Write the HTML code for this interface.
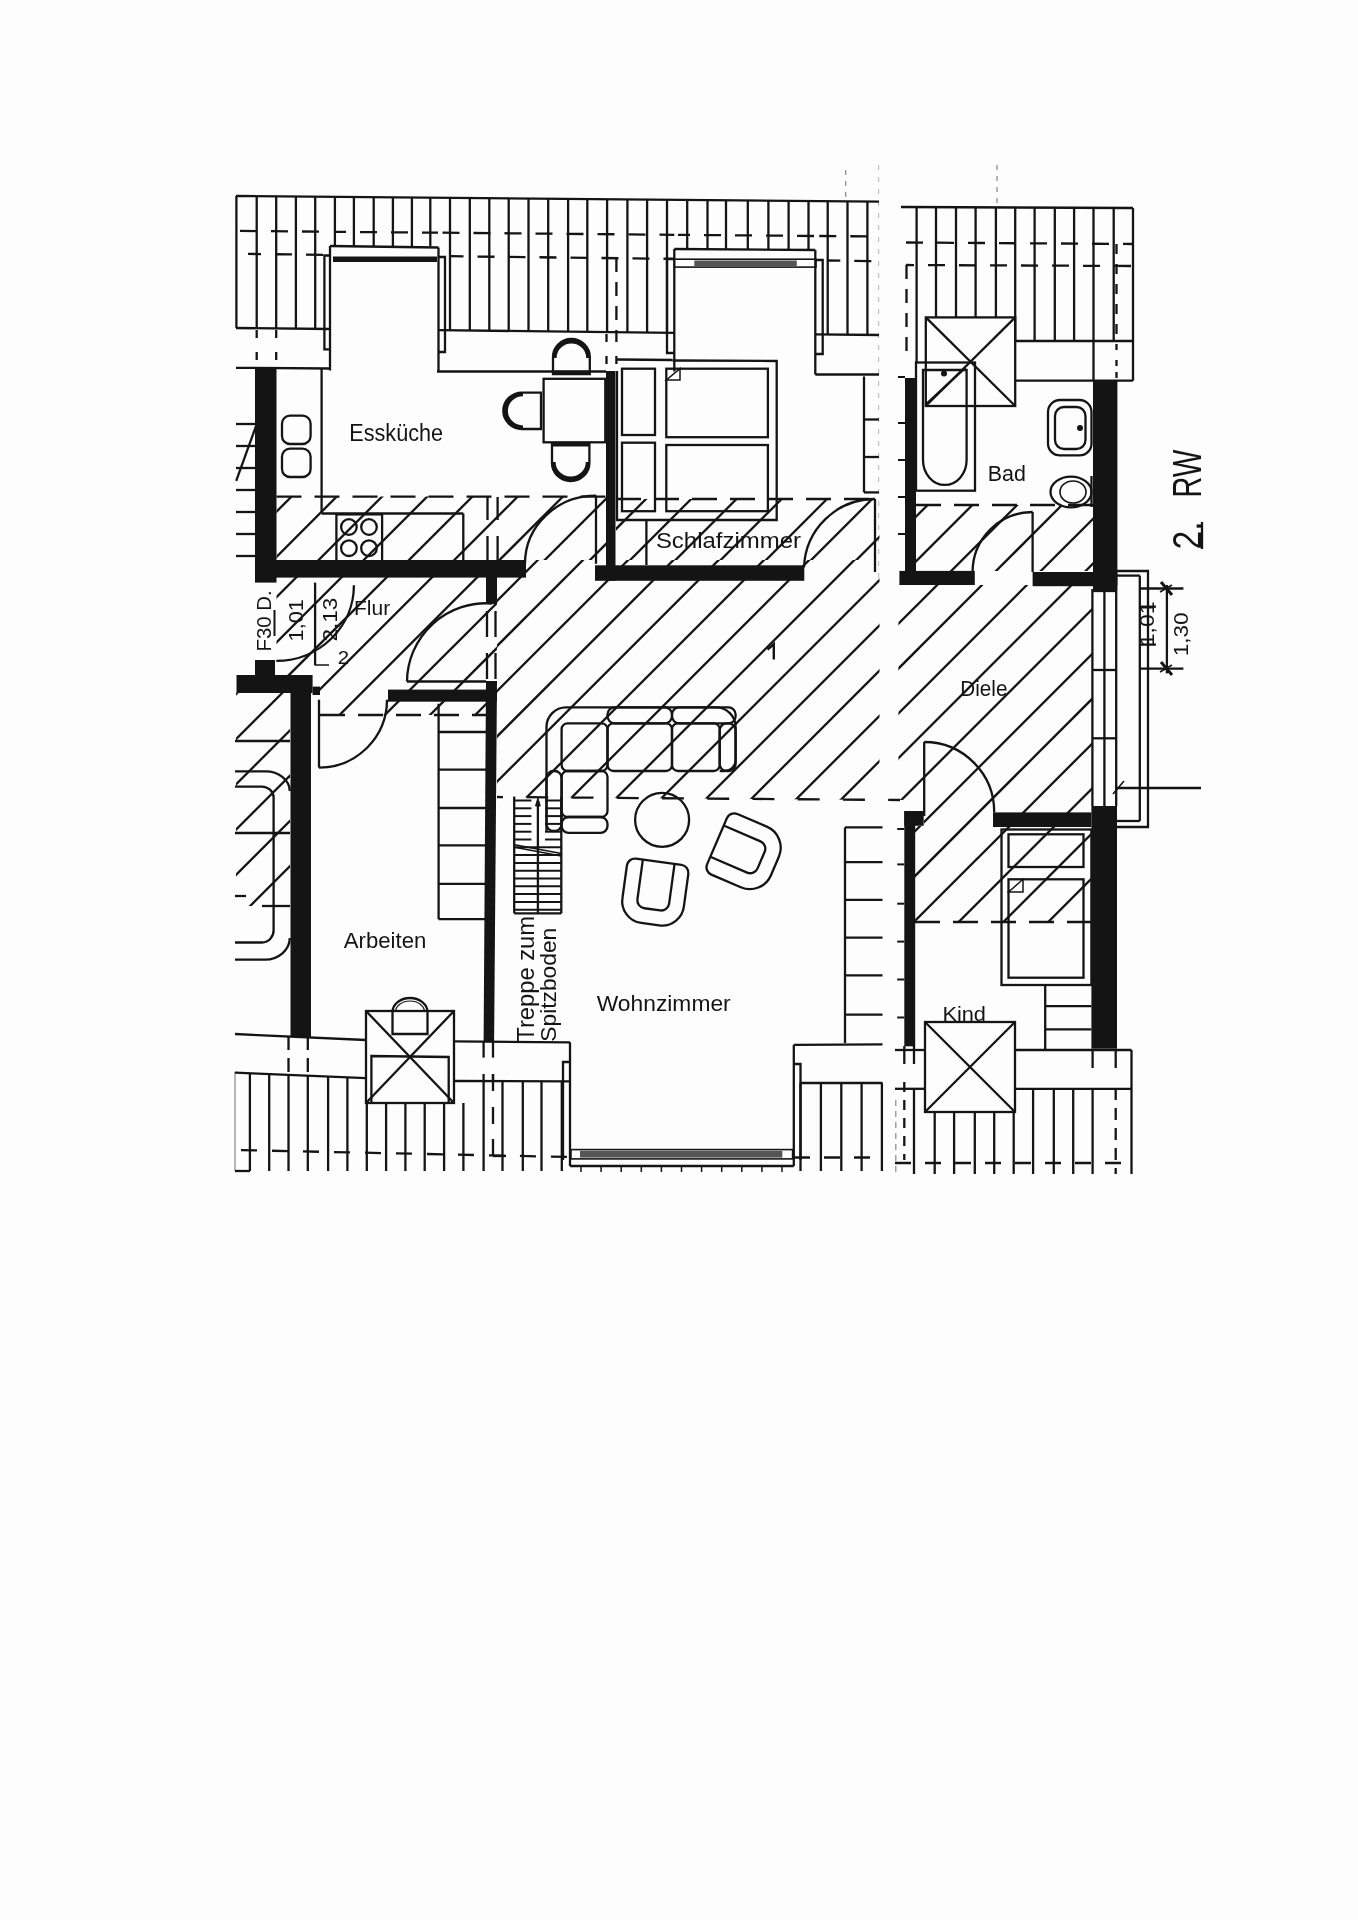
<!DOCTYPE html>
<html><head><meta charset="utf-8"><style>
html,body{margin:0;padding:0;background:#fff;}
svg{display:block;filter:blur(0.4px);}
text{font-family:"Liberation Sans",sans-serif;fill:#141414;stroke:none;}
</style></head><body>
<svg width="1358" height="1920" viewBox="0 0 1358 1920">
<defs><linearGradient id="edge" x1="0" x2="1" y1="0" y2="0"><stop offset="0" stop-color="#000" stop-opacity="0"/><stop offset="1" stop-color="#000" stop-opacity="0.035"/></linearGradient></defs>
<rect width="1358" height="1920" fill="#fdfdfd"/>
<g stroke="#141414" stroke-linecap="butt" fill="none">
<line x1="236.0" y1="196.0" x2="879.0" y2="201.6" stroke-width="2.3" />
<line x1="236.4" y1="196.0" x2="236.4" y2="328.0" stroke-width="2.3" />
<line x1="256.7" y1="196.2" x2="256.7" y2="328.2" stroke-width="2.3" />
<line x1="276.2" y1="196.3" x2="276.2" y2="328.4" stroke-width="2.3" />
<line x1="295.9" y1="196.5" x2="295.9" y2="328.7" stroke-width="2.3" />
<line x1="315.2" y1="196.7" x2="315.2" y2="328.9" stroke-width="2.3" />
<line x1="334.9" y1="196.9" x2="334.9" y2="246.0" stroke-width="2.3" />
<line x1="353.9" y1="197.0" x2="353.9" y2="246.0" stroke-width="2.3" />
<line x1="373.7" y1="197.2" x2="373.7" y2="246.0" stroke-width="2.3" />
<line x1="392.9" y1="197.4" x2="392.9" y2="246.0" stroke-width="2.3" />
<line x1="411.9" y1="197.5" x2="411.9" y2="246.0" stroke-width="2.3" />
<line x1="430.3" y1="197.7" x2="430.3" y2="246.0" stroke-width="2.3" />
<line x1="450.0" y1="197.9" x2="450.0" y2="330.3" stroke-width="2.3" />
<line x1="469.8" y1="198.0" x2="469.8" y2="330.5" stroke-width="2.3" />
<line x1="489.3" y1="198.2" x2="489.3" y2="330.8" stroke-width="2.3" />
<line x1="508.7" y1="198.4" x2="508.7" y2="331.0" stroke-width="2.3" />
<line x1="528.5" y1="198.5" x2="528.5" y2="331.2" stroke-width="2.3" />
<line x1="548.2" y1="198.7" x2="548.2" y2="331.4" stroke-width="2.3" />
<line x1="568.1" y1="198.9" x2="568.1" y2="331.6" stroke-width="2.3" />
<line x1="587.3" y1="199.1" x2="587.3" y2="331.8" stroke-width="2.3" />
<line x1="607.1" y1="199.2" x2="607.1" y2="332.0" stroke-width="2.3" />
<line x1="627.4" y1="199.4" x2="627.4" y2="332.3" stroke-width="2.3" />
<line x1="647.1" y1="199.6" x2="647.1" y2="332.5" stroke-width="2.3" />
<line x1="667.0" y1="199.7" x2="667.0" y2="332.7" stroke-width="2.3" />
<line x1="687.2" y1="199.9" x2="687.2" y2="249.5" stroke-width="2.3" />
<line x1="707.5" y1="200.1" x2="707.5" y2="249.5" stroke-width="2.3" />
<line x1="726.0" y1="200.3" x2="726.0" y2="249.5" stroke-width="2.3" />
<line x1="747.8" y1="200.5" x2="747.8" y2="249.5" stroke-width="2.3" />
<line x1="768.4" y1="200.6" x2="768.4" y2="249.5" stroke-width="2.3" />
<line x1="788.6" y1="200.8" x2="788.6" y2="249.5" stroke-width="2.3" />
<line x1="808.5" y1="201.0" x2="808.5" y2="249.5" stroke-width="2.3" />
<line x1="827.7" y1="201.1" x2="827.7" y2="334.4" stroke-width="2.3" />
<line x1="847.5" y1="201.3" x2="847.5" y2="334.7" stroke-width="2.3" />
<line x1="867.4" y1="201.5" x2="867.4" y2="334.9" stroke-width="2.3" />
<line x1="236.0" y1="328.0" x2="330.0" y2="329.0" stroke-width="2.3" />
<line x1="438.5" y1="330.2" x2="674.3" y2="332.8" stroke-width="2.3" />
<line x1="815.3" y1="334.3" x2="879.0" y2="335.0" stroke-width="2.3" />
<line x1="240.0" y1="230.9" x2="330.0" y2="231.8" stroke-width="2.3" stroke-dasharray="17 14" stroke-dashoffset="0"/>
<line x1="248.0" y1="253.9" x2="330.0" y2="254.9" stroke-width="2.3" stroke-dasharray="17 14" stroke-dashoffset="4"/>
<line x1="442.5" y1="232.7" x2="674.3" y2="234.8" stroke-width="2.3" stroke-dasharray="17 14" stroke-dashoffset="0"/>
<line x1="450.5" y1="256.2" x2="674.3" y2="258.9" stroke-width="2.3" stroke-dasharray="17 14" stroke-dashoffset="4"/>
<line x1="819.3" y1="236.0" x2="879.0" y2="236.5" stroke-width="2.3" stroke-dasharray="17 14" stroke-dashoffset="0"/>
<line x1="827.3" y1="260.5" x2="879.0" y2="261.2" stroke-width="2.3" stroke-dasharray="17 14" stroke-dashoffset="4"/>
<line x1="334.0" y1="231.8" x2="438.0" y2="232.7" stroke-width="2.3" stroke-dasharray="17 14" stroke-dashoffset="5"/>
<line x1="678.0" y1="234.8" x2="815.0" y2="236.0" stroke-width="2.3" stroke-dasharray="17 14" stroke-dashoffset="5"/>
<line x1="256.7" y1="330.0" x2="256.7" y2="368.0" stroke-width="2.3" stroke-dasharray="8 14"/>
<line x1="276.2" y1="330.0" x2="276.2" y2="368.0" stroke-width="2.3" stroke-dasharray="8 14"/>
<line x1="606.5" y1="334.0" x2="606.5" y2="371.0" stroke-width="2.3" stroke-dasharray="8 14"/>
<line x1="616.4" y1="334.0" x2="616.4" y2="371.0" stroke-width="2.3" stroke-dasharray="8 14"/>
<line x1="616.4" y1="258.0" x2="616.4" y2="334.0" stroke-width="2.3" stroke-dasharray="14 10"/>
<line x1="236.0" y1="367.8" x2="330.8" y2="368.5" stroke-width="2.3" />
<line x1="437.0" y1="371.5" x2="606.0" y2="371.5" stroke-width="2.3" />
<line x1="330.0" y1="246.0" x2="438.5" y2="247.5" stroke-width="2.3" />
<line x1="330.0" y1="246.0" x2="330.0" y2="370.5" stroke-width="2.3" />
<line x1="438.5" y1="247.5" x2="438.5" y2="371.5" stroke-width="2.3" />
<rect x="333.0" y="256.5" width="104.0" height="5.5" fill="#141414" stroke="none"/>
<polyline points="330.0,255.5 324.4,255.5 324.4,349.4 330.0,349.4" fill="none" stroke-width="2.3" />
<polyline points="438.5,257.0 445.0,257.0 445.0,352.0 438.5,352.0" fill="none" stroke-width="2.3" />
<line x1="674.3" y1="249.0" x2="815.3" y2="250.0" stroke-width="2.3" />
<line x1="674.3" y1="249.0" x2="674.3" y2="371.5" stroke-width="2.3" />
<line x1="815.3" y1="250.0" x2="815.3" y2="374.5" stroke-width="2.3" />
<rect x="674.3" y="259.2" width="141.7" height="7.9" rx="0" fill="none" stroke-width="1.6"/>
<rect x="694.3" y="260.5" width="102.5" height="6.0" fill="#555" stroke="none"/>
<polyline points="674.3,259.0 667.0,259.0 667.0,353.0 674.3,353.0" fill="none" stroke-width="2.3" />
<polyline points="815.3,260.0 822.7,260.0 822.7,354.0 815.3,354.0" fill="none" stroke-width="2.3" />
<line x1="815.3" y1="374.5" x2="879.0" y2="374.5" stroke-width="2.3" />
<line x1="901.0" y1="207.0" x2="1133.0" y2="208.0" stroke-width="2.3" />
<line x1="1133.0" y1="208.0" x2="1133.0" y2="380.7" stroke-width="2.3" />
<line x1="916.6" y1="207.1" x2="916.6" y2="362.0" stroke-width="2.3" />
<line x1="936.0" y1="207.2" x2="936.0" y2="318.0" stroke-width="2.3" />
<line x1="956.0" y1="207.2" x2="956.0" y2="318.0" stroke-width="2.3" />
<line x1="975.6" y1="207.3" x2="975.6" y2="318.0" stroke-width="2.3" />
<line x1="995.9" y1="207.4" x2="995.9" y2="318.0" stroke-width="2.3" />
<line x1="1015.2" y1="207.5" x2="1015.2" y2="341.0" stroke-width="2.3" />
<line x1="1034.6" y1="207.6" x2="1034.6" y2="341.0" stroke-width="2.3" />
<line x1="1054.8" y1="207.7" x2="1054.8" y2="341.0" stroke-width="2.3" />
<line x1="1074.1" y1="207.7" x2="1074.1" y2="341.0" stroke-width="2.3" />
<line x1="1093.5" y1="207.8" x2="1093.5" y2="341.0" stroke-width="2.3" />
<line x1="1113.7" y1="207.9" x2="1113.7" y2="341.0" stroke-width="2.3" />
<line x1="1015.2" y1="341.0" x2="1133.0" y2="341.0" stroke-width="2.3" />
<line x1="906.0" y1="242.5" x2="1133.0" y2="244.0" stroke-width="2.3" stroke-dasharray="17 14"/>
<line x1="906.0" y1="265.0" x2="1133.0" y2="266.0" stroke-width="2.3" stroke-dasharray="17 14" stroke-dashoffset="9"/>
<line x1="906.5" y1="265.0" x2="906.5" y2="360.0" stroke-width="2.3" stroke-dasharray="14 10"/>
<line x1="1116.5" y1="244.0" x2="1116.5" y2="350.0" stroke-width="2.3" stroke-dasharray="10 10"/>
<line x1="1093.5" y1="341.0" x2="1093.5" y2="381.0" stroke-width="2.3" />
<line x1="1116.5" y1="360.0" x2="1116.5" y2="381.0" stroke-width="2.3" stroke-dasharray="6 6"/>
<line x1="1015.2" y1="380.7" x2="1133.0" y2="380.7" stroke-width="2.3" />
<rect x="925.8" y="317.4" width="89.4" height="88.6" rx="0" fill="none" stroke-width="2.3"/>
<line x1="925.8" y1="317.4" x2="1015.2" y2="406.0" stroke-width="2.3" />
<line x1="1015.2" y1="317.4" x2="925.8" y2="406.0" stroke-width="2.3" />
<line x1="878.6" y1="165.0" x2="878.6" y2="580.0" stroke-width="1.2" stroke-dasharray="5 7" stroke-opacity="0.25"/>
<line x1="895.8" y1="1100.0" x2="895.8" y2="1174.0" stroke-width="1.2" stroke-dasharray="6 5" stroke-opacity="0.5"/>
<line x1="898.0" y1="377.0" x2="905.0" y2="377.0" stroke-width="2" />
<line x1="898.0" y1="423.0" x2="905.0" y2="423.0" stroke-width="2" />
<line x1="898.0" y1="460.0" x2="905.0" y2="460.0" stroke-width="2" />
<line x1="898.0" y1="497.0" x2="905.0" y2="497.0" stroke-width="2" />
<line x1="898.0" y1="534.0" x2="905.0" y2="534.0" stroke-width="2" />
<line x1="897.2" y1="829.0" x2="904.3" y2="829.0" stroke-width="2" />
<line x1="897.2" y1="864.4" x2="904.3" y2="864.4" stroke-width="2" />
<line x1="897.2" y1="903.7" x2="904.3" y2="903.7" stroke-width="2" />
<line x1="897.2" y1="941.6" x2="904.3" y2="941.6" stroke-width="2" />
<line x1="897.2" y1="979.5" x2="904.3" y2="979.5" stroke-width="2" />
<line x1="897.2" y1="1017.5" x2="904.3" y2="1017.5" stroke-width="2" />
<line x1="997.0" y1="165.0" x2="997.0" y2="207.0" stroke-width="1.2" stroke-dasharray="5 6" stroke-opacity="0.5"/>
<line x1="845.7" y1="170.0" x2="845.7" y2="201.0" stroke-width="1.2" stroke-dasharray="5 6" stroke-opacity="0.5"/>
<clipPath id="h1"><polygon points="276.5,496.6 606.0,496.6 606.0,560.0 276.5,560.0"/></clipPath>
<g clip-path="url(#h1)">
<line x1="127.6" y1="570.0" x2="211.0" y2="486.6" stroke-width="2.3"/>
<line x1="172.8" y1="570.0" x2="256.2" y2="486.6" stroke-width="2.3"/>
<line x1="218.1" y1="570.0" x2="301.5" y2="486.6" stroke-width="2.3"/>
<line x1="263.3" y1="570.0" x2="346.7" y2="486.6" stroke-width="2.3"/>
<line x1="308.6" y1="570.0" x2="392.0" y2="486.6" stroke-width="2.3"/>
<line x1="353.8" y1="570.0" x2="437.2" y2="486.6" stroke-width="2.3"/>
<line x1="399.0" y1="570.0" x2="482.4" y2="486.6" stroke-width="2.3"/>
<line x1="444.3" y1="570.0" x2="527.7" y2="486.6" stroke-width="2.3"/>
<line x1="489.5" y1="570.0" x2="572.9" y2="486.6" stroke-width="2.3"/>
<line x1="534.8" y1="570.0" x2="618.2" y2="486.6" stroke-width="2.3"/>
<line x1="580.0" y1="570.0" x2="663.4" y2="486.6" stroke-width="2.3"/>
<line x1="625.2" y1="570.0" x2="708.6" y2="486.6" stroke-width="2.3"/>
</g>
<clipPath id="h2"><polygon points="616.0,499.0 879.5,499.0 879.5,560.0 616.0,560.0"/></clipPath>
<g clip-path="url(#h2)">
<line x1="484.5" y1="570.0" x2="565.5" y2="489.0" stroke-width="2.3"/>
<line x1="529.8" y1="570.0" x2="610.8" y2="489.0" stroke-width="2.3"/>
<line x1="575.0" y1="570.0" x2="656.0" y2="489.0" stroke-width="2.3"/>
<line x1="620.2" y1="570.0" x2="701.2" y2="489.0" stroke-width="2.3"/>
<line x1="665.5" y1="570.0" x2="746.5" y2="489.0" stroke-width="2.3"/>
<line x1="710.7" y1="570.0" x2="791.7" y2="489.0" stroke-width="2.3"/>
<line x1="756.0" y1="570.0" x2="837.0" y2="489.0" stroke-width="2.3"/>
<line x1="801.2" y1="570.0" x2="882.2" y2="489.0" stroke-width="2.3"/>
<line x1="846.4" y1="570.0" x2="927.4" y2="489.0" stroke-width="2.3"/>
<line x1="891.7" y1="570.0" x2="972.7" y2="489.0" stroke-width="2.3"/>
</g>
<clipPath id="h3"><polygon points="497.0,560.0 879.5,560.0 879.5,800.0 497.0,797.0"/></clipPath>
<g clip-path="url(#h3)">
<line x1="197.3" y1="810.0" x2="457.3" y2="550.0" stroke-width="2.3"/>
<line x1="242.5" y1="810.0" x2="502.5" y2="550.0" stroke-width="2.3"/>
<line x1="287.8" y1="810.0" x2="547.8" y2="550.0" stroke-width="2.3"/>
<line x1="333.0" y1="810.0" x2="593.0" y2="550.0" stroke-width="2.3"/>
<line x1="378.2" y1="810.0" x2="638.2" y2="550.0" stroke-width="2.3"/>
<line x1="423.5" y1="810.0" x2="683.5" y2="550.0" stroke-width="2.3"/>
<line x1="468.7" y1="810.0" x2="728.7" y2="550.0" stroke-width="2.3"/>
<line x1="514.0" y1="810.0" x2="774.0" y2="550.0" stroke-width="2.3"/>
<line x1="559.2" y1="810.0" x2="819.2" y2="550.0" stroke-width="2.3"/>
<line x1="604.4" y1="810.0" x2="864.4" y2="550.0" stroke-width="2.3"/>
<line x1="649.7" y1="810.0" x2="909.7" y2="550.0" stroke-width="2.3"/>
<line x1="694.9" y1="810.0" x2="954.9" y2="550.0" stroke-width="2.3"/>
<line x1="740.2" y1="810.0" x2="1000.2" y2="550.0" stroke-width="2.3"/>
<line x1="785.4" y1="810.0" x2="1045.4" y2="550.0" stroke-width="2.3"/>
<line x1="830.6" y1="810.0" x2="1090.6" y2="550.0" stroke-width="2.3"/>
<line x1="875.9" y1="810.0" x2="1135.9" y2="550.0" stroke-width="2.3"/>
</g>
<clipPath id="h4"><polygon points="276.5,560.0 497.0,560.0 497.0,715.0 320.0,715.0 320.0,695.0 276.5,693.0"/></clipPath>
<g clip-path="url(#h4)">
<line x1="58.1" y1="725.0" x2="233.1" y2="550.0" stroke-width="2.3"/>
<line x1="103.3" y1="725.0" x2="278.3" y2="550.0" stroke-width="2.3"/>
<line x1="148.6" y1="725.0" x2="323.6" y2="550.0" stroke-width="2.3"/>
<line x1="193.8" y1="725.0" x2="368.8" y2="550.0" stroke-width="2.3"/>
<line x1="239.0" y1="725.0" x2="414.0" y2="550.0" stroke-width="2.3"/>
<line x1="284.3" y1="725.0" x2="459.3" y2="550.0" stroke-width="2.3"/>
<line x1="329.5" y1="725.0" x2="504.5" y2="550.0" stroke-width="2.3"/>
<line x1="374.8" y1="725.0" x2="549.8" y2="550.0" stroke-width="2.3"/>
<line x1="420.0" y1="725.0" x2="595.0" y2="550.0" stroke-width="2.3"/>
<line x1="465.2" y1="725.0" x2="640.2" y2="550.0" stroke-width="2.3"/>
<line x1="510.5" y1="725.0" x2="685.5" y2="550.0" stroke-width="2.3"/>
</g>
<clipPath id="h5"><polygon points="898.4,585.0 1093.0,585.0 1093.0,922.0 915.0,922.0 915.0,826.0 924.0,826.0 924.0,800.0 898.4,800.0"/></clipPath>
<g clip-path="url(#h5)">
<line x1="500.6" y1="932.0" x2="857.6" y2="575.0" stroke-width="2.3"/>
<line x1="545.4" y1="932.0" x2="902.4" y2="575.0" stroke-width="2.3"/>
<line x1="590.2" y1="932.0" x2="947.2" y2="575.0" stroke-width="2.3"/>
<line x1="635.0" y1="932.0" x2="992.0" y2="575.0" stroke-width="2.3"/>
<line x1="679.8" y1="932.0" x2="1036.8" y2="575.0" stroke-width="2.3"/>
<line x1="724.6" y1="932.0" x2="1081.6" y2="575.0" stroke-width="2.3"/>
<line x1="769.4" y1="932.0" x2="1126.4" y2="575.0" stroke-width="2.3"/>
<line x1="814.2" y1="932.0" x2="1171.2" y2="575.0" stroke-width="2.3"/>
<line x1="859.0" y1="932.0" x2="1216.0" y2="575.0" stroke-width="2.3"/>
<line x1="903.8" y1="932.0" x2="1260.8" y2="575.0" stroke-width="2.3"/>
<line x1="948.6" y1="932.0" x2="1305.6" y2="575.0" stroke-width="2.3"/>
<line x1="993.4" y1="932.0" x2="1350.4" y2="575.0" stroke-width="2.3"/>
<line x1="1038.2" y1="932.0" x2="1395.2" y2="575.0" stroke-width="2.3"/>
<line x1="1083.0" y1="932.0" x2="1440.0" y2="575.0" stroke-width="2.3"/>
<line x1="1127.8" y1="932.0" x2="1484.8" y2="575.0" stroke-width="2.3"/>
</g>
<clipPath id="h6"><polygon points="916.0,505.0 1093.0,505.0 1093.0,571.0 916.0,571.0"/></clipPath>
<g clip-path="url(#h6)">
<line x1="762.0" y1="581.0" x2="848.0" y2="495.0" stroke-width="2.3"/>
<line x1="806.8" y1="581.0" x2="892.8" y2="495.0" stroke-width="2.3"/>
<line x1="851.6" y1="581.0" x2="937.6" y2="495.0" stroke-width="2.3"/>
<line x1="896.4" y1="581.0" x2="982.4" y2="495.0" stroke-width="2.3"/>
<line x1="941.2" y1="581.0" x2="1027.2" y2="495.0" stroke-width="2.3"/>
<line x1="986.0" y1="581.0" x2="1072.0" y2="495.0" stroke-width="2.3"/>
<line x1="1030.8" y1="581.0" x2="1116.8" y2="495.0" stroke-width="2.3"/>
<line x1="1075.6" y1="581.0" x2="1161.6" y2="495.0" stroke-width="2.3"/>
<line x1="1120.4" y1="581.0" x2="1206.4" y2="495.0" stroke-width="2.3"/>
</g>
<rect x="255.0" y="368.0" width="21.5" height="214.6" fill="#141414" stroke="none"/>
<rect x="255.0" y="560.0" width="271.0" height="17.6" fill="#141414" stroke="none"/>
<rect x="595.0" y="565.3" width="209.3" height="15.5" fill="#141414" stroke="none"/>
<rect x="606.0" y="371.0" width="9.5" height="209.8" fill="#141414" stroke="none"/>
<rect x="486.0" y="576.0" width="11.0" height="28.0" fill="#141414" stroke="none"/>
<polygon points="486,681 497,681 494.1,1042 483.6,1042" fill="#141414" stroke="none"/>
<line x1="487.0" y1="611.0" x2="487.0" y2="637.0" stroke-width="2.3" />
<line x1="495.5" y1="611.0" x2="495.5" y2="637.0" stroke-width="2.3" />
<line x1="487.0" y1="653.0" x2="487.0" y2="679.0" stroke-width="2.3" />
<line x1="495.5" y1="653.0" x2="495.5" y2="679.0" stroke-width="2.3" />
<rect x="255.0" y="660.0" width="20.0" height="16.0" fill="#141414" stroke="none"/>
<rect x="236.5" y="675.0" width="76.1" height="18.0" fill="#141414" stroke="none"/>
<rect x="290.5" y="675.0" width="20.5" height="362.0" fill="#141414" stroke="none"/>
<rect x="312.6" y="686.6" width="7.4" height="8.4" fill="#141414" stroke="none"/>
<rect x="388.0" y="689.6" width="109.0" height="12.1" fill="#141414" stroke="none"/>
<rect x="905.0" y="378.0" width="11.0" height="207.0" fill="#141414" stroke="none"/>
<rect x="899.4" y="570.9" width="75.4" height="14.1" fill="#141414" stroke="none"/>
<rect x="1032.6" y="572.0" width="84.8" height="14.2" fill="#141414" stroke="none"/>
<rect x="1093.0" y="380.7" width="24.4" height="209.3" fill="#141414" stroke="none"/>
<rect x="904.3" y="811.0" width="10.9" height="235.3" fill="#141414" stroke="none"/>
<rect x="904.3" y="811.0" width="19.4" height="14.8" fill="#141414" stroke="none"/>
<rect x="993.0" y="812.4" width="98.4" height="14.6" fill="#141414" stroke="none"/>
<rect x="1091.4" y="806.0" width="25.6" height="242.7" fill="#141414" stroke="none"/>
<line x1="276.5" y1="496.6" x2="606.0" y2="496.6" stroke-width="2.3" stroke-dasharray="25 13"/>
<line x1="616.0" y1="499.0" x2="880.0" y2="499.0" stroke-width="2.3" stroke-dasharray="25 13"/>
<line x1="320.0" y1="715.0" x2="486.0" y2="715.0" stroke-width="2.3" stroke-dasharray="25 13"/>
<line x1="497.0" y1="797.0" x2="900.0" y2="800.0" stroke-width="2.3" stroke-dasharray="22 23.24" stroke-dashoffset="16"/>
<line x1="916.0" y1="505.0" x2="1093.0" y2="505.0" stroke-width="2.3" stroke-dasharray="25 13"/>
<line x1="915.0" y1="922.0" x2="1091.0" y2="922.0" stroke-width="2.3" stroke-dasharray="25 13"/>
<line x1="235.0" y1="1034.0" x2="366.0" y2="1040.0" stroke-width="2.3" />
<line x1="454.0" y1="1041.4" x2="570.0" y2="1042.3" stroke-width="2.3" />
<line x1="235.0" y1="1072.7" x2="366.0" y2="1078.2" stroke-width="2.3" />
<line x1="454.0" y1="1081.0" x2="570.0" y2="1081.3" stroke-width="2.3" />
<line x1="235.0" y1="1072.0" x2="235.0" y2="1171.0" stroke-width="1.2" stroke-opacity="0.5"/>
<line x1="249.9" y1="1073.3" x2="249.9" y2="1171.0" stroke-width="2.3" />
<line x1="269.2" y1="1074.1" x2="269.2" y2="1171.0" stroke-width="2.3" />
<line x1="288.5" y1="1074.9" x2="288.5" y2="1171.0" stroke-width="2.3" />
<line x1="307.8" y1="1075.8" x2="307.8" y2="1171.0" stroke-width="2.3" />
<line x1="328.1" y1="1076.6" x2="328.1" y2="1171.0" stroke-width="2.3" />
<line x1="347.4" y1="1077.4" x2="347.4" y2="1171.0" stroke-width="2.3" />
<line x1="366.8" y1="1103.0" x2="366.8" y2="1171.0" stroke-width="2.3" />
<line x1="386.1" y1="1103.0" x2="386.1" y2="1171.0" stroke-width="2.3" />
<line x1="405.4" y1="1103.0" x2="405.4" y2="1171.0" stroke-width="2.3" />
<line x1="424.7" y1="1103.0" x2="424.7" y2="1171.0" stroke-width="2.3" />
<line x1="444.1" y1="1103.0" x2="444.1" y2="1171.0" stroke-width="2.3" />
<line x1="463.4" y1="1103.0" x2="463.4" y2="1171.0" stroke-width="2.3" />
<line x1="483.6" y1="1081.0" x2="483.6" y2="1171.0" stroke-width="2.3" />
<line x1="502.5" y1="1081.0" x2="502.5" y2="1171.0" stroke-width="2.3" />
<line x1="522.8" y1="1081.0" x2="522.8" y2="1171.0" stroke-width="2.3" />
<line x1="541.5" y1="1081.0" x2="541.5" y2="1171.0" stroke-width="2.3" />
<line x1="561.8" y1="1081.0" x2="561.8" y2="1171.0" stroke-width="2.3" />
<line x1="235.0" y1="1171.0" x2="250.0" y2="1171.0" stroke-width="2.3" />
<line x1="235.0" y1="1150.0" x2="570.0" y2="1157.0" stroke-width="2.3" stroke-dasharray="16 15" stroke-dashoffset="-6"/>
<line x1="288.5" y1="1037.0" x2="288.5" y2="1050.0" stroke-width="2.3" />
<line x1="288.5" y1="1058.0" x2="288.5" y2="1072.0" stroke-width="2.3" />
<line x1="307.8" y1="1037.0" x2="307.8" y2="1050.0" stroke-width="2.3" />
<line x1="307.8" y1="1058.0" x2="307.8" y2="1072.0" stroke-width="2.3" />
<line x1="483.6" y1="1042.0" x2="483.6" y2="1057.6" stroke-width="2.3" />
<line x1="483.6" y1="1074.0" x2="483.6" y2="1081.0" stroke-width="2.3" />
<line x1="493.0" y1="1042.0" x2="493.0" y2="1057.6" stroke-width="2.3" />
<line x1="493.0" y1="1074.0" x2="493.0" y2="1081.0" stroke-width="2.3" />
<line x1="493.0" y1="1074.0" x2="493.0" y2="1091.0" stroke-width="2.3" />
<line x1="493.0" y1="1107.0" x2="493.0" y2="1124.0" stroke-width="2.3" />
<line x1="493.0" y1="1139.0" x2="493.0" y2="1156.0" stroke-width="2.3" />
<line x1="493.0" y1="1156.0" x2="506.0" y2="1156.0" stroke-width="2.3" />
<rect x="366.0" y="1011.0" width="88.0" height="92.0" rx="0" fill="none" stroke-width="2.3"/>
<line x1="366.0" y1="1011.0" x2="454.0" y2="1103.0" stroke-width="2.3" />
<line x1="454.0" y1="1011.0" x2="366.0" y2="1103.0" stroke-width="2.3" />
<polyline points="371.4,1103.0 371.4,1056.0 448.7,1057.0 448.7,1103.0" fill="none" stroke-width="2.3" />
<path d="M392.5,1034 L392.5,1012 A17.5,14 0 0 1 427.5,1012 L427.5,1034 Z" fill="none" stroke-width="2.3" />
<path d="M395.5,1012 A14.5,11 0 0 1 424.5,1012" fill="none" stroke-width="1.2" />
<line x1="570.0" y1="1042.3" x2="570.0" y2="1166.0" stroke-width="2.3" />
<line x1="793.8" y1="1044.8" x2="793.8" y2="1166.0" stroke-width="2.3" />
<line x1="570.0" y1="1166.0" x2="793.8" y2="1166.0" stroke-width="2.3" />
<rect x="570.9" y="1149.6" width="221.7" height="9.3" rx="0" fill="none" stroke-width="1.6"/>
<rect x="580.0" y="1150.8" width="202.3" height="6.8" fill="#555" stroke="none"/>
<polyline points="570.0,1062.0 563.0,1062.0 563.0,1160.0" fill="none" stroke-width="2.3" />
<polyline points="793.8,1064.0 800.5,1064.0 800.5,1160.0" fill="none" stroke-width="2.3" />
<line x1="581.0" y1="1166.0" x2="581.0" y2="1172.0" stroke-width="1.5" />
<line x1="601.1" y1="1166.0" x2="601.1" y2="1172.0" stroke-width="1.5" />
<line x1="621.2" y1="1166.0" x2="621.2" y2="1172.0" stroke-width="1.5" />
<line x1="641.3" y1="1166.0" x2="641.3" y2="1172.0" stroke-width="1.5" />
<line x1="661.4" y1="1166.0" x2="661.4" y2="1172.0" stroke-width="1.5" />
<line x1="681.5" y1="1166.0" x2="681.5" y2="1172.0" stroke-width="1.5" />
<line x1="701.6" y1="1166.0" x2="701.6" y2="1172.0" stroke-width="1.5" />
<line x1="721.7" y1="1166.0" x2="721.7" y2="1172.0" stroke-width="1.5" />
<line x1="741.8" y1="1166.0" x2="741.8" y2="1172.0" stroke-width="1.5" />
<line x1="761.9" y1="1166.0" x2="761.9" y2="1172.0" stroke-width="1.5" />
<line x1="782.0" y1="1166.0" x2="782.0" y2="1172.0" stroke-width="1.5" />
<line x1="793.8" y1="1044.8" x2="882.5" y2="1044.3" stroke-width="2.3" />
<line x1="800.5" y1="1083.0" x2="882.5" y2="1083.0" stroke-width="2.3" />
<line x1="820.9" y1="1083.0" x2="820.9" y2="1171.0" stroke-width="2.3" />
<line x1="841.3" y1="1083.0" x2="841.3" y2="1171.0" stroke-width="2.3" />
<line x1="861.6" y1="1083.0" x2="861.6" y2="1171.0" stroke-width="2.3" />
<line x1="881.9" y1="1083.0" x2="881.9" y2="1171.0" stroke-width="2.3" />
<line x1="800.5" y1="1083.0" x2="800.5" y2="1171.0" stroke-width="2.3" />
<line x1="794.0" y1="1157.5" x2="882.0" y2="1157.5" stroke-width="2.3" stroke-dasharray="16 14"/>
<line x1="1015.0" y1="1050.0" x2="1131.5" y2="1050.0" stroke-width="2.3" />
<line x1="1015.0" y1="1088.8" x2="1131.5" y2="1088.8" stroke-width="2.3" />
<line x1="1131.5" y1="1050.0" x2="1131.5" y2="1174.0" stroke-width="2.3" />
<line x1="895.0" y1="1050.0" x2="925.0" y2="1050.0" stroke-width="2.3" />
<line x1="895.0" y1="1088.8" x2="925.0" y2="1088.8" stroke-width="2.3" />
<line x1="934.7" y1="1112.0" x2="934.7" y2="1174.0" stroke-width="2.3" />
<line x1="954.1" y1="1112.0" x2="954.1" y2="1174.0" stroke-width="2.3" />
<line x1="974.8" y1="1112.0" x2="974.8" y2="1174.0" stroke-width="2.3" />
<line x1="994.2" y1="1112.0" x2="994.2" y2="1174.0" stroke-width="2.3" />
<line x1="1033.1" y1="1088.8" x2="1033.1" y2="1174.0" stroke-width="2.3" />
<line x1="1053.8" y1="1088.8" x2="1053.8" y2="1174.0" stroke-width="2.3" />
<line x1="1073.2" y1="1088.8" x2="1073.2" y2="1174.0" stroke-width="2.3" />
<line x1="1092.6" y1="1088.8" x2="1092.6" y2="1174.0" stroke-width="2.3" />
<line x1="914.0" y1="1088.0" x2="914.0" y2="1174.0" stroke-width="2.3" />
<line x1="914.0" y1="1046.0" x2="914.0" y2="1064.0" stroke-width="2.3" />
<line x1="904.3" y1="1046.0" x2="904.3" y2="1064.0" stroke-width="2.3" />
<line x1="904.3" y1="1082.0" x2="904.3" y2="1160.0" stroke-width="2.3" stroke-dasharray="10 8"/>
<line x1="1092.6" y1="1050.0" x2="1092.6" y2="1068.0" stroke-width="2.3" />
<line x1="1115.7" y1="1050.0" x2="1115.7" y2="1068.0" stroke-width="2.3" />
<line x1="1115.7" y1="1088.0" x2="1115.7" y2="1174.0" stroke-width="2.3" stroke-dasharray="12 8"/>
<line x1="1013.7" y1="1112.0" x2="1013.7" y2="1174.0" stroke-width="2.3" />
<line x1="895.0" y1="1163.0" x2="1131.5" y2="1163.0" stroke-width="2.3" stroke-dasharray="16 14"/>
<rect x="925.0" y="1022.0" width="90.0" height="90.0" rx="0" fill="none" stroke-width="2.3"/>
<line x1="925.0" y1="1022.0" x2="1015.0" y2="1112.0" stroke-width="2.3" />
<line x1="1015.0" y1="1022.0" x2="925.0" y2="1112.0" stroke-width="2.3" />
<line x1="438.6" y1="703.8" x2="438.6" y2="919.2" stroke-width="2.3" />
<line x1="438.6" y1="732.0" x2="486.0" y2="732.0" stroke-width="2.3" />
<line x1="438.6" y1="769.6" x2="486.0" y2="769.6" stroke-width="2.3" />
<line x1="438.6" y1="808.0" x2="486.0" y2="808.0" stroke-width="2.3" />
<line x1="438.6" y1="845.3" x2="486.0" y2="845.3" stroke-width="2.3" />
<line x1="438.6" y1="883.8" x2="486.0" y2="883.8" stroke-width="2.3" />
<line x1="438.6" y1="919.2" x2="486.0" y2="919.2" stroke-width="2.3" />
<line x1="845.0" y1="827.4" x2="845.0" y2="1043.0" stroke-width="2.3" />
<line x1="845.0" y1="827.4" x2="882.5" y2="827.4" stroke-width="2.3" />
<line x1="845.0" y1="862.1" x2="882.5" y2="862.1" stroke-width="2.3" />
<line x1="845.0" y1="899.8" x2="882.5" y2="899.8" stroke-width="2.3" />
<line x1="845.0" y1="937.6" x2="882.5" y2="937.6" stroke-width="2.3" />
<line x1="845.0" y1="975.3" x2="882.5" y2="975.3" stroke-width="2.3" />
<line x1="845.0" y1="1014.6" x2="882.5" y2="1014.6" stroke-width="2.3" />
<line x1="864.0" y1="376.4" x2="864.0" y2="492.4" stroke-width="2.3" />
<line x1="864.0" y1="419.5" x2="879.0" y2="419.5" stroke-width="2.3" />
<line x1="864.0" y1="457.0" x2="879.0" y2="457.0" stroke-width="2.3" />
<line x1="864.0" y1="492.4" x2="879.0" y2="492.4" stroke-width="2.3" />
<line x1="1045.2" y1="985.5" x2="1045.2" y2="1050.0" stroke-width="2.3" />
<line x1="1045.2" y1="1006.2" x2="1091.4" y2="1006.2" stroke-width="2.3" />
<line x1="1045.2" y1="1029.3" x2="1091.4" y2="1029.3" stroke-width="2.3" />
<line x1="514.2" y1="796.6" x2="514.2" y2="913.3" stroke-width="2.3" />
<line x1="561.3" y1="796.6" x2="561.3" y2="913.3" stroke-width="2.3" />
<line x1="514.2" y1="913.3" x2="561.3" y2="913.3" stroke-width="2.3" />
<line x1="537.9" y1="802.0" x2="537.9" y2="913.3" stroke-width="2.3" />
<line x1="514.2" y1="800.5" x2="531.4" y2="800.5" stroke-width="2" />
<line x1="545.0" y1="800.5" x2="561.3" y2="800.5" stroke-width="2" />
<line x1="514.2" y1="808.3" x2="531.4" y2="808.3" stroke-width="2" />
<line x1="545.0" y1="808.3" x2="561.3" y2="808.3" stroke-width="2" />
<line x1="514.2" y1="816.1" x2="531.4" y2="816.1" stroke-width="2" />
<line x1="545.0" y1="816.1" x2="561.3" y2="816.1" stroke-width="2" />
<line x1="514.2" y1="823.9" x2="531.4" y2="823.9" stroke-width="2" />
<line x1="545.0" y1="823.9" x2="561.3" y2="823.9" stroke-width="2" />
<line x1="514.2" y1="831.7" x2="531.4" y2="831.7" stroke-width="2" />
<line x1="545.0" y1="831.7" x2="561.3" y2="831.7" stroke-width="2" />
<line x1="514.2" y1="839.5" x2="531.4" y2="839.5" stroke-width="2" />
<line x1="545.0" y1="839.5" x2="561.3" y2="839.5" stroke-width="2" />
<line x1="514.2" y1="847.3" x2="561.3" y2="847.3" stroke-width="2" />
<line x1="514.2" y1="855.1" x2="561.3" y2="855.1" stroke-width="2" />
<line x1="514.2" y1="862.9" x2="561.3" y2="862.9" stroke-width="2" />
<line x1="514.2" y1="870.7" x2="561.3" y2="870.7" stroke-width="2" />
<line x1="514.2" y1="878.5" x2="561.3" y2="878.5" stroke-width="2" />
<line x1="514.2" y1="886.3" x2="561.3" y2="886.3" stroke-width="2" />
<line x1="514.2" y1="894.1" x2="561.3" y2="894.1" stroke-width="2" />
<line x1="514.2" y1="901.9" x2="561.3" y2="901.9" stroke-width="2" />
<line x1="514.2" y1="909.7" x2="561.3" y2="909.7" stroke-width="2" />
<line x1="514.6" y1="844.7" x2="561.3" y2="853.5" stroke-width="1.5" />
<line x1="514.6" y1="847.2" x2="561.3" y2="856.0" stroke-width="1.5" />
<path d="M535.5,806 L537.9,798 L540.3,806 Z" fill="#141414" stroke-width="1" />
<line x1="596.0" y1="495.7" x2="596.0" y2="563.8" stroke-width="2.3" />
<path d="M525,563.8 A71,68 0 0 1 596,495.7" fill="none" stroke-width="2.3" />
<line x1="487.5" y1="536.0" x2="487.5" y2="564.0" stroke-width="2.3" />
<line x1="497.6" y1="536.0" x2="497.6" y2="564.0" stroke-width="2.3" />
<line x1="487.5" y1="497.0" x2="487.5" y2="520.0" stroke-width="2.3" />
<line x1="497.6" y1="497.0" x2="497.6" y2="520.0" stroke-width="2.3" />
<line x1="875.0" y1="499.0" x2="875.0" y2="572.0" stroke-width="2.3" />
<path d="M804,567.5 A71,71 0 0 1 875,499" fill="none" stroke-width="2.3" />
<line x1="315.1" y1="582.6" x2="315.1" y2="665.3" stroke-width="2.3" />
<path d="M276.3,660.9 A77.6,75.7 0 0 0 353.9,585.2" fill="none" stroke-width="2.3" />
<line x1="315.0" y1="665.0" x2="329.0" y2="665.0" stroke-width="1.5" />
<line x1="319.0" y1="699.7" x2="319.0" y2="767.6" stroke-width="2.3" />
<path d="M319,767.6 A68,68 0 0 0 387,699.7" fill="none" stroke-width="2.3" />
<line x1="407.0" y1="681.5" x2="486.0" y2="681.5" stroke-width="2.3" />
<path d="M407,681.5 A79,79 0 0 1 492,603.5" fill="none" stroke-width="2.3" />
<line x1="1032.6" y1="512.0" x2="1032.6" y2="572.0" stroke-width="2.3" />
<path d="M972.6,572 A60,60 0 0 1 1032.6,512" fill="none" stroke-width="2.3" />
<line x1="924.2" y1="742.0" x2="924.2" y2="816.0" stroke-width="2.3" />
<path d="M924.2,742 A70,70 0 0 1 994.2,812.4" fill="none" stroke-width="2.3" />
<rect x="282.0" y="415.6" width="28.6" height="28.4" rx="8" fill="none" stroke-width="2.3"/>
<rect x="282.0" y="448.7" width="28.6" height="28.3" rx="8" fill="none" stroke-width="2.3"/>
<line x1="321.6" y1="368.0" x2="321.6" y2="513.5" stroke-width="2.3" />
<line x1="321.6" y1="513.5" x2="463.3" y2="513.5" stroke-width="2.3" />
<rect x="336.4" y="514.4" width="45.7" height="47.0" rx="0" fill="none" stroke-width="2.3"/>
<circle cx="348.9" cy="527" r="7.8" fill="none" stroke-width="2.3"/>
<circle cx="369" cy="527" r="7.8" fill="none" stroke-width="2.3"/>
<circle cx="348.9" cy="548.2" r="7.8" fill="none" stroke-width="2.3"/>
<circle cx="369" cy="548.2" r="7.8" fill="none" stroke-width="2.3"/>
<line x1="463.3" y1="513.5" x2="463.3" y2="560.0" stroke-width="2.3" />
<rect x="543.6" y="378.8" width="61.7" height="63.5" rx="0" fill="none" stroke-width="2.3"/>
<path d="M553,374 L553,357 A18.4,18 0 0 1 589.8,357 L589.8,374 Z" fill="none" stroke-width="2.3" />
<path d="M554.5,358 A16.9,16.5 0 0 1 588.3,358" fill="none" stroke-width="4.2" />
<line x1="553.0" y1="372.5" x2="589.8" y2="372.5" stroke-width="3.5" />
<path d="M552,443.3 L552,463 A18.7,18 0 0 0 589.4,463 L589.4,443.3 Z" fill="none" stroke-width="2.3" />
<path d="M553.5,462 A17.2,16.5 0 0 0 587.9,462" fill="none" stroke-width="4.2" />
<line x1="552.0" y1="445.0" x2="589.4" y2="445.0" stroke-width="2.8" />
<path d="M541,392.6 L522,392.6 A18.7,18.2 0 0 0 522,429 L541,429 Z" fill="none" stroke-width="2.3" />
<path d="M523,394.1 A17.2,16.7 0 0 0 523,427.5" fill="none" stroke-width="4.2" />
<polyline points="617.0,371.0 617.0,520.0 776.7,520.0 776.7,361.0 672.5,360.5" fill="none" stroke-width="2.3" />
<line x1="617.0" y1="359.5" x2="672.5" y2="360.0" stroke-width="2.3" />
<rect x="622.0" y="368.7" width="33.0" height="66.3" rx="0" fill="none" stroke-width="2.3"/>
<rect x="622.0" y="442.7" width="33.0" height="68.5" rx="0" fill="none" stroke-width="2.3"/>
<rect x="666.3" y="368.7" width="101.6" height="68.5" rx="0" fill="none" stroke-width="2.3"/>
<rect x="666.3" y="445.0" width="101.6" height="66.2" rx="0" fill="none" stroke-width="2.3"/>
<path d="M666.3,380 L680,368.7 L680,380 Z" fill="none" stroke-width="1.5" />
<line x1="646.4" y1="520.0" x2="646.4" y2="565.0" stroke-width="2.3" />
<path d="M546.5,831 L546.5,727 A19.6,19.6 0 0 1 566.1,707.4 L716,707.4 A19.6,19.6 0 0 1 735.6,727 L735.6,760 A11,11 0 0 1 724.6,771 L719.7,771" fill="none" stroke-width="2.3" />
<rect x="607.5" y="707.4" width="64.5" height="15.9" rx="7" fill="none" stroke-width="2.3"/>
<rect x="672.0" y="707.4" width="63.6" height="15.9" rx="7" fill="none" stroke-width="2.3"/>
<rect x="561.6" y="723.3" width="45.9" height="47.7" rx="6" fill="none" stroke-width="2.3"/>
<rect x="607.5" y="723.3" width="64.5" height="47.7" rx="6" fill="none" stroke-width="2.3"/>
<rect x="672.0" y="723.3" width="47.7" height="47.7" rx="6" fill="none" stroke-width="2.3"/>
<rect x="719.7" y="723.3" width="15.9" height="47.7" rx="7" fill="none" stroke-width="2.3"/>
<rect x="546.5" y="771.0" width="15.1" height="60.0" rx="7" fill="none" stroke-width="2.3"/>
<rect x="561.6" y="771.0" width="45.9" height="46.0" rx="6" fill="none" stroke-width="2.3"/>
<rect x="561.6" y="817.0" width="45.9" height="15.9" rx="7" fill="none" stroke-width="2.3"/>
<circle cx="662.1" cy="819.8" r="27" fill="none" stroke-width="2.3"/>
<g transform="translate(654.5,892.5) rotate(7.8)">
<path d="M-23,-31 L23,-31 A8,8 0 0 1 31,-23 L31,9 A22,22 0 0 1 9,32 L-9,32 A22,22 0 0 1 -31,9 L-31,-23 A8,8 0 0 1 -23,-31 Z" fill="none" stroke-width="2.3" />
<path d="M-16,-31 L-16,9 A8,8 0 0 0 -8,17 L8,17 A8,8 0 0 0 16,9 L16,-31" fill="none" stroke-width="2.3" />
</g>
<g transform="translate(745.5,853.4) rotate(-66.8)">
<path d="M-25,-31 L25,-31 A8,8 0 0 1 33,-23 L33,9 A23,23 0 0 1 10,32 L-10,32 A23,23 0 0 1 -33,9 L-33,-23 A8,8 0 0 1 -25,-31 Z" fill="none" stroke-width="2.3" />
<path d="M-17,-31 L-17,9 A8,8 0 0 0 -9,17 L9,17 A8,8 0 0 0 17,9 L17,-31" fill="none" stroke-width="2.3" />
</g>
<rect x="916.0" y="362.5" width="59.0" height="128.2" rx="0" fill="none" stroke-width="2.3"/>
<path d="M923,370 L966.6,370 L966.6,460 A21.8,25 0 0 1 923,460 Z" fill="none" stroke-width="2.3" />
<line x1="925.7" y1="404.7" x2="965.4" y2="367.6" stroke-width="2.3" />
<circle cx="944" cy="373.6" r="3" fill="#141414" stroke="none"/>
<rect x="1048.0" y="400.0" width="43.5" height="55.4" rx="12" fill="none" stroke-width="2.3"/>
<rect x="1055.0" y="407.0" width="30.5" height="42.0" rx="9" fill="none" stroke-width="2.3"/>
<circle cx="1080" cy="428" r="3" fill="#141414" stroke="none"/>
<ellipse cx="1071" cy="492" rx="20.5" ry="15.3" fill="none" stroke-width="2.3"/>
<ellipse cx="1073" cy="492" rx="13" ry="11" fill="none" stroke-width="1.6"/>
<line x1="1091.5" y1="476.0" x2="1091.5" y2="507.0" stroke-width="2.3" />
<rect x="1001.5" y="829.5" width="89.9" height="155.5" rx="0" fill="none" stroke-width="2.3"/>
<rect x="1008.5" y="834.3" width="75.0" height="32.7" rx="0" fill="none" stroke-width="2.3"/>
<rect x="1008.5" y="879.3" width="75.0" height="98.4" rx="0" fill="none" stroke-width="2.3"/>
<path d="M1008.5,892 L1023,879.3 L1023,892 Z" fill="none" stroke-width="1.5" />
<polyline points="1117.0,571.0 1148.0,571.0 1148.0,827.0 1117.0,827.0" fill="none" stroke-width="2.3" />
<line x1="1092.4" y1="589.0" x2="1092.4" y2="806.0" stroke-width="2.3" />
<line x1="1104.4" y1="589.0" x2="1104.4" y2="806.0" stroke-width="2.3" />
<line x1="1116.2" y1="589.0" x2="1116.2" y2="806.0" stroke-width="2.3" />
<line x1="1139.8" y1="606.7" x2="1155.9" y2="606.7" stroke-width="2.3" />
<line x1="1139.8" y1="644.6" x2="1155.9" y2="644.6" stroke-width="2.3" />
<line x1="1139.8" y1="575.6" x2="1139.8" y2="821.0" stroke-width="2.3" />
<line x1="1117.0" y1="575.6" x2="1139.8" y2="575.6" stroke-width="2.3" />
<line x1="1117.0" y1="821.0" x2="1139.8" y2="821.0" stroke-width="2.3" />
<line x1="1093.0" y1="591.0" x2="1117.0" y2="591.0" stroke-width="2.3" />
<line x1="1093.0" y1="670.0" x2="1117.0" y2="670.0" stroke-width="2.3" />
<line x1="1093.0" y1="738.3" x2="1117.0" y2="738.3" stroke-width="2.3" />
<line x1="1166.9" y1="585.0" x2="1166.9" y2="673.4" stroke-width="2.3" />
<line x1="1139.8" y1="588.5" x2="1183.4" y2="588.5" stroke-width="2.3" />
<line x1="1139.8" y1="668.6" x2="1183.4" y2="668.6" stroke-width="2.3" />
<line x1="1161.0" y1="582.0" x2="1172.0" y2="595.0" stroke-width="3" />
<line x1="1161.0" y1="662.0" x2="1172.0" y2="675.0" stroke-width="3" />
<line x1="1160.0" y1="592.0" x2="1172.0" y2="585.0" stroke-width="1.5" />
<line x1="1160.0" y1="672.0" x2="1172.0" y2="665.0" stroke-width="1.5" />
<line x1="1117.0" y1="788.0" x2="1201.0" y2="788.0" stroke-width="2.3" />
<line x1="1113.0" y1="794.0" x2="1124.0" y2="781.0" stroke-width="1.6" />
<line x1="236.0" y1="424.0" x2="255.0" y2="424.0" stroke-width="2.3" />
<line x1="236.0" y1="446.0" x2="255.0" y2="446.0" stroke-width="2.3" />
<line x1="236.0" y1="468.0" x2="255.0" y2="468.0" stroke-width="2.3" />
<line x1="236.0" y1="490.0" x2="255.0" y2="490.0" stroke-width="2.3" />
<line x1="236.0" y1="512.0" x2="255.0" y2="512.0" stroke-width="2.3" />
<line x1="236.0" y1="534.0" x2="255.0" y2="534.0" stroke-width="2.3" />
<line x1="236.0" y1="556.0" x2="255.0" y2="556.0" stroke-width="2.3" />
<line x1="236.2" y1="480.8" x2="255.8" y2="426.7" stroke-width="2.3" />
<path d="M235,771.4 L265,771.4 A24,20 0 0 1 289.8,791" fill="none" stroke-width="2.3" />
<path d="M235,786.6 L262,786.6 A12,11 0 0 1 273.6,797 L273.6,930 A12,12 0 0 1 262,942.5 L235,942.5" fill="none" stroke-width="2.3" />
<path d="M289.8,938 A25,22 0 0 1 265,959.7 L235,959.7" fill="none" stroke-width="2.3" />
<line x1="235.0" y1="741.0" x2="290.0" y2="741.0" stroke-width="2.3" />
<line x1="235.0" y1="833.0" x2="290.0" y2="833.0" stroke-width="2.3" />
<line x1="235.0" y1="896.0" x2="246.0" y2="896.0" stroke-width="2.3" />
<line x1="262.0" y1="906.0" x2="290.0" y2="906.0" stroke-width="2.3" />
<clipPath id="h7"><polygon points="236.0,693.0 290.0,693.0 290.0,906.0 236.0,906.0"/></clipPath>
<g clip-path="url(#h7)">
<line x1="-76.5" y1="916.0" x2="156.5" y2="683.0" stroke-width="2.3"/>
<line x1="-31.3" y1="916.0" x2="201.7" y2="683.0" stroke-width="2.3"/>
<line x1="14.0" y1="916.0" x2="247.0" y2="683.0" stroke-width="2.3"/>
<line x1="59.2" y1="916.0" x2="292.2" y2="683.0" stroke-width="2.3"/>
<line x1="104.4" y1="916.0" x2="337.4" y2="683.0" stroke-width="2.3"/>
<line x1="149.7" y1="916.0" x2="382.7" y2="683.0" stroke-width="2.3"/>
<line x1="194.9" y1="916.0" x2="427.9" y2="683.0" stroke-width="2.3"/>
<line x1="240.2" y1="916.0" x2="473.2" y2="683.0" stroke-width="2.3"/>
<line x1="285.4" y1="916.0" x2="518.4" y2="683.0" stroke-width="2.3"/>
</g>
<text x="349.3" y="440.9" font-size="23.5" textLength="93.7" lengthAdjust="spacingAndGlyphs" stroke="#141414" stroke-width="1.3">Essküche</text>
<text x="655.9" y="547.8" font-size="21.2" textLength="145.1" lengthAdjust="spacingAndGlyphs" stroke="#141414" stroke-width="1.3">Schlafzimmer</text>
<text x="354.0" y="614.6" font-size="20.1" textLength="36.2" lengthAdjust="spacingAndGlyphs" stroke="#141414" stroke-width="1.3">Flur</text>
<text x="343.8" y="948.0" font-size="22.1" textLength="82.5" lengthAdjust="spacingAndGlyphs" stroke="#141414" stroke-width="1.3">Arbeiten</text>
<text x="596.7" y="1011.0" font-size="22.6" textLength="134.0" lengthAdjust="spacingAndGlyphs" stroke="#141414" stroke-width="1.3">Wohnzimmer</text>
<text x="987.8" y="480.5" font-size="22.2" textLength="38.1" lengthAdjust="spacingAndGlyphs" stroke="#141414" stroke-width="1.3">Bad</text>
<text x="960.3" y="695.9" font-size="21.4" textLength="47.1" lengthAdjust="spacingAndGlyphs" stroke="#141414" stroke-width="1.3">Diele</text>
<text x="942.4" y="1020.9" font-size="20.5" textLength="43.6" lengthAdjust="spacingAndGlyphs" stroke="#141414" stroke-width="1.3">Kind</text>
<polyline points="767.6,649.7 773.8,644.0 773.8,659.5" fill="none" stroke-width="2.4" />
<text transform="translate(533.5,1041.7) rotate(-90)" x="0" y="0" font-size="23.0" textLength="125.7" lengthAdjust="spacingAndGlyphs" stroke="#141414" stroke-width="1.0">Treppe zum</text>
<text transform="translate(555.5,1041.7) rotate(-90)" x="0" y="0" font-size="22.6" textLength="113.9" lengthAdjust="spacingAndGlyphs" stroke="#141414" stroke-width="1.0">Spitzboden</text>
<text transform="translate(271.3,651.5) rotate(-90)" x="0" y="0" font-size="19.3" textLength="61.3" lengthAdjust="spacingAndGlyphs" stroke="#141414" stroke-width="0.6">F30 D.</text>
<line x1="274.5" y1="610.0" x2="274.5" y2="636.0" stroke-width="2" />
<text transform="translate(303.2,641.5) rotate(-90)" x="0" y="0" font-size="20.1" textLength="42.5" lengthAdjust="spacingAndGlyphs" stroke="#141414" stroke-width="0.6">1,01</text>
<text transform="translate(337.0,641.5) rotate(-90)" x="0" y="0" font-size="20.1" textLength="43.8" lengthAdjust="spacingAndGlyphs" stroke="#141414" stroke-width="0.6">2,13</text>
<text x="337.7" y="664.0" font-size="17.5" textLength="11.3" lengthAdjust="spacingAndGlyphs" stroke="#141414" stroke-width="0.6">2</text>
<text transform="translate(1201.0,497.8) rotate(-90)" x="0" y="0" font-size="41.1" textLength="48.3" lengthAdjust="spacingAndGlyphs" stroke="#141414" stroke-width="0.2">RW</text>
<text transform="translate(1201.0,549.6) rotate(-90)" x="0" y="0" font-size="41.1" textLength="28.2" lengthAdjust="spacingAndGlyphs" stroke="#141414" stroke-width="0.2">2.</text>
<line x1="1202.0" y1="522.0" x2="1202.0" y2="549.0" stroke-width="2.3" />
<text transform="translate(1154.0,646.2) rotate(-90)" x="0" y="0" font-size="19.6" textLength="44.7" lengthAdjust="spacingAndGlyphs" stroke="#141414" stroke-width="0.5">1,01</text>
<text transform="translate(1188.0,656.3) rotate(-90)" x="0" y="0" font-size="20.9" textLength="43.8" lengthAdjust="spacingAndGlyphs" stroke="#141414" stroke-width="0.6">1,30</text>
</g>
</svg>
</body></html>
